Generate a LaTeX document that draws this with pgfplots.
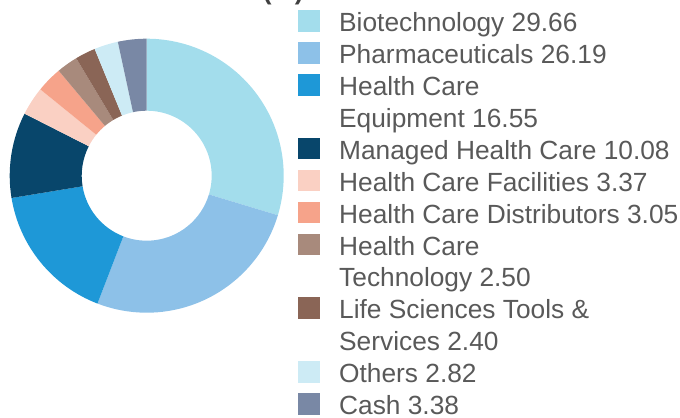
\documentclass[border=0pt]{standalone}
\usepackage{pgfplots}
\usepackage{pgfplotstable}
\pgfplotsset{compat=1.18}
\usepackage{fontspec}
\setmainfont{Liberation Sans}
\definecolor{txt}{HTML}{595959}
\definecolor{ttl}{HTML}{404040}
\definecolor{c1}{HTML}{A3DDEC}
\definecolor{c2}{HTML}{8DC1E8}
\definecolor{c3}{HTML}{1E98D7}
\definecolor{c4}{HTML}{08466B}
\definecolor{c5}{HTML}{FAD0C3}
\definecolor{c6}{HTML}{F6A38A}
\definecolor{c7}{HTML}{A88A7C}
\definecolor{c8}{HTML}{8A6556}
\definecolor{c9}{HTML}{CDEBF5}
\definecolor{c10}{HTML}{7988A5}

\pgfplotstableread[col sep=comma]{
name,value,color
Biotechnology,29.66,c1
Pharmaceuticals,26.19,c2
Health Care Equipment,16.55,c3
Managed Health Care,10.08,c4
Health Care Facilities,3.37,c5
Health Care Distributors,3.05,c6
Health Care Technology,2.50,c7
Life Sciences Tools and Services,2.40,c8
Others,2.82,c9
Cash,3.38,c10
}\sectordata

\newcommand\legfont{\fontsize{26.3bp}{31.9bp}\selectfont}
\newcommand\legsq[2]{\fill[#2] (axis cs:298.3,{417-21-31.9*#1-10.8}) rectangle (axis cs:320,{417-21-31.9*#1+10.8});}
\newcommand\legtxt[2]{\node[anchor=base west, inner sep=0pt, font=\legfont, text=txt] at (axis cs:339,{417-31.7-31.9*#1}) {#2};}

\begin{document}
\begin{tikzpicture}[x=1bp,y=1bp]
\useasboundingbox (0,0) rectangle (680,417);
\clip (0,0) rectangle (680,417);
\begin{axis}[at={(0,0)}, anchor=south west, x=1bp, y=1bp,
  xmin=0, xmax=680, ymin=0, ymax=417, hide axis, clip=false,
  disabledatascaling]
\def\cx{146.7}
\def\cy{241.3}
\def\startang{90}
\pgfplotsforeachungrouped \i in {0,...,9}{%
  \pgfplotstablegetelem{\i}{value}\of\sectordata
  \let\val\pgfplotsretval
  \pgfplotstablegetelem{\i}{color}\of\sectordata
  \let\col\pgfplotsretval
  \pgfmathsetmacro\endang{\startang-3.6*\val}%
  \edef\temp{\noexpand\fill[\col] (axis cs:\cx,\cy) ++(\startang:137bp)
     arc[start angle=\startang, end angle=\endang, radius=137bp]
     -- ++(\endang+180:72bp)
     arc[start angle=\endang, end angle=\startang, radius=65bp] -- cycle;}%
  \temp
  \global\let\startang\endang
}
\node[anchor=base west, inner sep=0pt, font=\bfseries\fontsize{26.3bp}{30bp}\selectfont, text=ttl] at (axis cs:39,417.8) {Sector Allocation (\%)};
\legsq{0}{c1}\legsq{1}{c2}\legsq{2}{c3}\legsq{4}{c4}\legsq{5}{c5}
\legsq{6}{c6}\legsq{7}{c7}\legsq{9}{c8}\legsq{11}{c9}\legsq{12}{c10}
\legtxt{0}{Biotechnology 29.66}
\legtxt{1}{Pharmaceuticals 26.19}
\legtxt{2}{Health Care}
\legtxt{3}{Equipment 16.55}
\legtxt{4}{Managed Health Care 10.08}
\legtxt{5}{Health Care Facilities 3.37}
\legtxt{6}{Health Care Distributors 3.05}
\legtxt{7}{Health Care}
\legtxt{8}{Technology 2.50}
\legtxt{9}{Life Sciences Tools \&}
\legtxt{10}{Services 2.40}
\legtxt{11}{Others 2.82}
\legtxt{12}{Cash 3.38}
\end{axis}
\end{tikzpicture}
\end{document}
